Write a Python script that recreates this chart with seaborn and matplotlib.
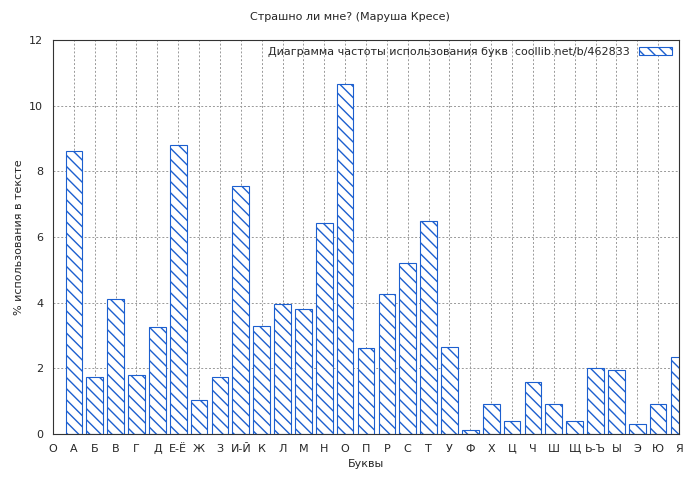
import matplotlib
matplotlib.use("Agg")
import matplotlib.pyplot as plt
import seaborn as sns
import pandas as pd

tick_labels = ["О", "А", "Б", "В", "Г", "Д", "Е-Ё", "Ж", "З", "И-Й", "К", "Л", "М", "Н", "О",
               "П", "Р", "С", "Т", "У", "Ф", "Х", "Ц", "Ч", "Ш", "Щ", "Ь-Ъ", "Ы", "Э", "Ю", "Я"]
letters = tick_labels[1:]
values = [8.62, 1.75, 4.12, 1.8, 3.25, 8.8, 1.05, 1.75, 7.55, 3.28, 3.97, 3.82, 6.43, 10.67,
          2.63, 4.25, 5.22, 6.5, 2.65, 0.12, 0.9, 0.4, 1.58, 0.9, 0.4, 2.0, 1.95, 0.3, 0.9, 2.33]

sns.set_style("white")
plt.rcParams["font.family"] = ["DejaVu Sans"]

df = pd.DataFrame({"pos": list(range(1, len(letters) + 1)), "value": values})

fig = plt.figure(figsize=(7, 4.8), dpi=100)
ax = fig.add_axes([53 / 700, 46 / 480, 626 / 700, 394 / 480])
sns.barplot(data=df, x="pos", y="value", native_scale=True, width=0.8, ax=ax,
            color="white", edgecolor="#1c5fcf", linewidth=0.8,
            label="Диаграмма частоты использования букв  coollib.net/b/462833")
for p in ax.patches:
    p.set_hatch("\\\\\\")
    p.set_facecolor("white")
    p.set_edgecolor("#1c5fcf")

ax.set_xlim(0, 30)
ax.set_ylim(0, 12)
ax.set_xticks(range(31))
ax.set_xticklabels(tick_labels, fontsize=8)
ax.set_yticks(range(0, 13, 2))
ax.tick_params(axis="y", labelsize=8)
ax.grid(True, color="#999999", linestyle=(0, (2, 2)), linewidth=0.7)
ax.set_axisbelow(True)
for s in ax.spines.values():
    s.set_color("#333333")
ax.set_xlabel("Буквы", fontsize=8)
ax.set_ylabel("% использования в тексте", fontsize=8)
fig.suptitle("Страшно ли мне? (Маруша Кресе)", fontsize=8, y=0.975)
ax.legend(loc="upper right", fontsize=8, frameon=False, handlelength=3,
          markerfirst=False, borderaxespad=0.2)

fig.savefig("out.png", dpi=100, facecolor="white")
